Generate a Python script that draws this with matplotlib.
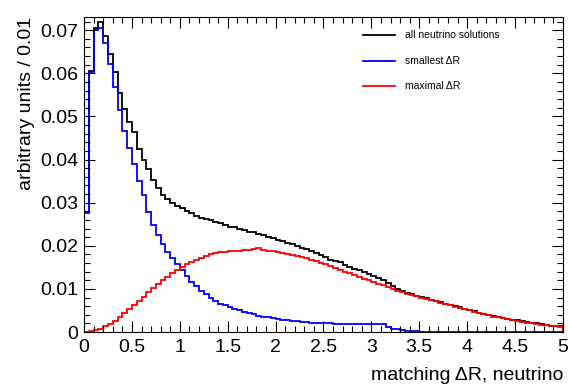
import numpy as np
import matplotlib
matplotlib.use("Agg")
import matplotlib.pyplot as plt
from matplotlib.ticker import MultipleLocator, FuncFormatter

plt.rcParams['font.family'] = ['Liberation Sans', 'DejaVu Sans']

# 100 bins of width 0.05 between 0 and 5
edges = np.linspace(0, 5, 101)

all_solutions = [
    0.0278, 0.0606, 0.0705, 0.0720, 0.0687, 0.0645, 0.0603, 0.0555, 0.0517, 0.0487,
    0.0464, 0.0424, 0.0400, 0.0378, 0.0352, 0.0333, 0.0318, 0.0308, 0.0300, 0.0293,
    0.0287, 0.0280, 0.0275, 0.0269, 0.0265, 0.0262, 0.0260, 0.0256, 0.0252, 0.0248,
    0.0244, 0.0244, 0.0240, 0.0236, 0.0233, 0.0231, 0.0227, 0.0224, 0.0221, 0.0218,
    0.0214, 0.0211, 0.0207, 0.0204, 0.0200, 0.0196, 0.0193, 0.0188, 0.0184, 0.0179,
    0.0174, 0.0168, 0.0165, 0.0163, 0.0156, 0.0151, 0.0147, 0.0143, 0.0139, 0.0134,
    0.0130, 0.0126, 0.0121, 0.0113, 0.0106, 0.0100, 0.0095, 0.0091, 0.0088, 0.0084,
    0.0081, 0.0078, 0.0075, 0.0072, 0.0069, 0.0066, 0.0063, 0.0060, 0.0057, 0.0054,
    0.0051, 0.0048, 0.0045, 0.0042, 0.0040, 0.0037, 0.0035, 0.0033, 0.0031, 0.0029,
    0.0027, 0.0025, 0.0023, 0.0022, 0.0020, 0.0018, 0.0017, 0.0015, 0.0014, 0.0013,
]

smallest_dr = [
    0.0276, 0.0603, 0.0700, 0.0705, 0.0670, 0.0622, 0.0568, 0.0515, 0.0466, 0.0427,
    0.0390, 0.0350, 0.0318, 0.0278, 0.0248, 0.0225, 0.0204, 0.0186, 0.0171, 0.0157,
    0.0144, 0.0130, 0.0117, 0.0107, 0.0096, 0.0088, 0.0080, 0.0072, 0.0066, 0.0062,
    0.0058, 0.0054, 0.0050, 0.0047, 0.0044, 0.0041, 0.0038, 0.0036, 0.0034, 0.0032,
    0.0030, 0.0029, 0.0028, 0.0026, 0.0025, 0.0024, 0.0023, 0.0022, 0.0022, 0.0021,
    0.0021, 0.0020, 0.0019, 0.0019, 0.0019, 0.0019, 0.0018, 0.0018, 0.0018, 0.0018,
    0.0018, 0.0018, 0.0018, 0.0012, 0.0008, 0.0006, 0.0004, 0.0003, 0.0002, 0.0002,
    0.0001, 0.0001, 0.0001, 0.0001, 0.0001, 0.0001, 0.0001, 0.0001, 0.0001, 0.0001,
    0.0001, 0.0001, 0.0001, 0.0001, 0.0001, 0.0001, 0.0001, 0.0001, 0.0001, 0.0001,
    0.0001, 0.0001, 0.0001, 0.0001, 0.0001, 0.0001, 0.0001, 0.0001, 0.0001, 0.0001,
]

maximal_dr = [
    0.0000, 0.0002, 0.0004, 0.0008, 0.0013, 0.0019, 0.0026, 0.0034, 0.0043, 0.0053,
    0.0063, 0.0073, 0.0082, 0.0092, 0.0101, 0.0111, 0.0120, 0.0128, 0.0136, 0.0144,
    0.0150, 0.0157, 0.0163, 0.0168, 0.0172, 0.0176, 0.0180, 0.0183, 0.0185, 0.0186,
    0.0188, 0.0189, 0.0189, 0.0191, 0.0190, 0.0193, 0.0195, 0.0190, 0.0189, 0.0188,
    0.0186, 0.0183, 0.0180, 0.0178, 0.0176, 0.0174, 0.0171, 0.0168, 0.0165, 0.0161,
    0.0158, 0.0153, 0.0148, 0.0144, 0.0139, 0.0136, 0.0132, 0.0128, 0.0124, 0.0120,
    0.0116, 0.0112, 0.0108, 0.0104, 0.0100, 0.0096, 0.0093, 0.0089, 0.0086, 0.0083,
    0.0080, 0.0077, 0.0074, 0.0071, 0.0068, 0.0065, 0.0062, 0.0059, 0.0056, 0.0053,
    0.0050, 0.0047, 0.0044, 0.0041, 0.0039, 0.0036, 0.0034, 0.0032, 0.0030, 0.0028,
    0.0026, 0.0024, 0.0022, 0.0021, 0.0019, 0.0017, 0.0016, 0.0014, 0.0013, 0.0012,
]

labels = ["all neutrino solutions", "smallest \u0394R", "maximal \u0394R"]
colors = ["black", "blue", "red"]

fig = plt.figure(figsize=(5.68, 3.92), dpi=100)
ax = fig.add_axes([0.148, 0.153, 0.843, 0.804])

for vals, col in zip([all_solutions, smallest_dr, maximal_dr], colors):
    ax.stairs(vals, edges, color=col, linewidth=1.3, baseline=0)

ax.set_xlim(0, 5)
ax.set_ylim(0, 0.0731)

ax.xaxis.set_major_locator(MultipleLocator(0.5))
ax.xaxis.set_minor_locator(MultipleLocator(0.1))
ax.yaxis.set_major_locator(MultipleLocator(0.01))
ax.yaxis.set_minor_locator(MultipleLocator(0.002))
ax.xaxis.set_major_formatter(FuncFormatter(lambda v, p: f"{v:g}"))
ax.yaxis.set_major_formatter(FuncFormatter(lambda v, p: f"{round(v, 3):g}"))

ax.tick_params(which='both', direction='in', top=True, right=True, labelsize=14)
ax.tick_params(which='major', length=8, width=0.8)
ax.tick_params(which='minor', length=4, width=0.8)
ax.tick_params(axis='x', pad=5)
ax.tick_params(axis='y', pad=4)

ax.set_xlabel("matching \u0394R, neutrino", loc='right', fontsize=14, labelpad=8)
ax.set_ylabel("arbitrary units / 0.01", loc='top', fontsize=14, labelpad=4)

# legend without frame, ROOT style
ly = [0.943, 0.860, 0.781]
for lab, col, y in zip(labels, colors, ly):
    ax.plot([0.582, 0.649], [y, y], color=col, linewidth=1.3, transform=ax.transAxes)
    ax.text(0.670, y, lab, fontsize=7.5, va='center', ha='left', transform=ax.transAxes)

fig.savefig("out.png", dpi=100)
